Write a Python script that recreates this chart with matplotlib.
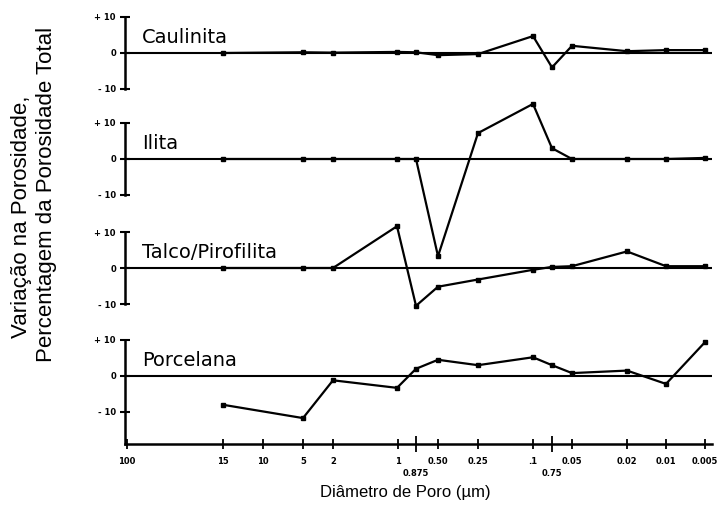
import numpy as np
import matplotlib
matplotlib.use("Agg")
import matplotlib.pyplot as plt

plt.rcParams['font.family'] = ['Liberation Sans', 'DejaVu Sans']

# pore diameter classes (um) as printed on the axis
x_labels = ['100', '15', '10', '5', '2', '1', '.1', '0.50', '0.25', '0.05', '0.02', '0.01', '0.005']
x_pos = [127, 223, 263, 303, 333, 398, 533, 438, 478, 572, 627, 666, 705]
x_labels2 = ['0.875', '0.75']
x_pos2 = [416, 552]

# diameters where the measurements sit
d_pos = [223, 303, 333, 397, 416, 438, 478, 533, 552, 572, 627, 666, 705]

caulinita = [0.0, 0.2, 0.1, 0.3, 0.2, -0.6, -0.3, 4.7, -4.0, 2.0, 0.5, 0.8, 0.8]
ilita = [0.0, 0.0, 0.0, 0.0, 0.0, -27.0, 7.2, 15.3, 3.0, 0.0, 0.0, 0.0, 0.3]
talco = [0.0, 0.0, 0.0, 11.6, -10.5, -5.2, -3.2, -0.5, 0.3, 0.5, 4.6, 0.5, 0.5]
porcelana = [-8.0, -11.7, -1.2, -3.3, 2.0, 4.5, 3.0, 5.2, 3.0, 0.8, 1.5, -2.2, 9.4]

names = ['Caulinita', 'Ilita', 'Talco/Pirofilita', 'Porcelana']
series = [caulinita, ilita, talco, porcelana]

W, H = 726, 514
fig = plt.figure(figsize=(W / 100, H / 100), dpi=100)

x0, x1 = 125, 712
# (top pixel, bottom pixel) of each panel
boxes = [(-1, 107), (105, 213), (214, 322), (322, 444)]
tickfont = dict(family='DejaVu Sans', size=6, weight='bold')

for k, (name, vals) in enumerate(zip(names, series)):
    top, bot = boxes[k]
    ax = fig.add_axes([x0 / W, (H - bot) / H, (x1 - x0) / W, (bot - top) / H])
    ax.set_xlim(x0, x1)
    ax.patch.set_alpha(0)
    last = (k == 3)
    if last:
        ax.set_ylim(-18.9, 15)
    else:
        ax.set_ylim(-15, 15)
    for s in ['top', 'right']:
        ax.spines[s].set_visible(False)
    ax.spines['left'].set_linewidth(1.8)
    if last:
        ax.spines['left'].set_bounds(-18.9, 10)
        ax.spines['bottom'].set_linewidth(1.8)
    else:
        ax.spines['left'].set_bounds(-10, 10)
        ax.spines['bottom'].set_visible(False)

    ax.axhline(0, color='black', lw=1.5, zorder=1)
    ax.plot(d_pos, vals, color='black', lw=1.6, marker='s', ms=3.2,
            clip_on=False, zorder=3)
    ax.text(x0 + 17, 1.8, name, fontsize=14, family='DejaVu Sans',
            ha='left', va='bottom')

    ax.set_yticks([-10, 0, 10])
    ax.set_yticklabels(['- 10', '0', '+ 10'], fontdict=tickfont)
    ax.tick_params(axis='y', direction='inout', length=7, width=1.5, pad=3)

    if last:
        ax.set_xticks(x_pos)
        ax.set_xticklabels(x_labels, fontdict=tickfont)
        ax.set_xticks(x_pos2, minor=True)
        ax.set_xticklabels(x_labels2, minor=True, fontdict=tickfont)
        ax.tick_params(axis='x', which='major', direction='inout', length=7,
                       width=1.3, pad=6)
        ax.tick_params(axis='x', which='minor', direction='inout', length=11.5,
                       width=1.3, pad=12.5)
    else:
        ax.set_xticks([])

fig.text(405 / W, 1 - 492 / H, 'Diâmetro de Poro (µm)', ha='center',
         va='center', fontsize=12)
fig.text(22 / W, 1 - 217 / H, 'Variação na Porosidade,', rotation=90,
         ha='center', va='center', fontsize=16)
fig.text(47 / W, 1 - 194 / H, 'Percentagem da Porosidade Total', rotation=90,
         ha='center', va='center', fontsize=16)

plt.savefig('out.png', dpi=100)
